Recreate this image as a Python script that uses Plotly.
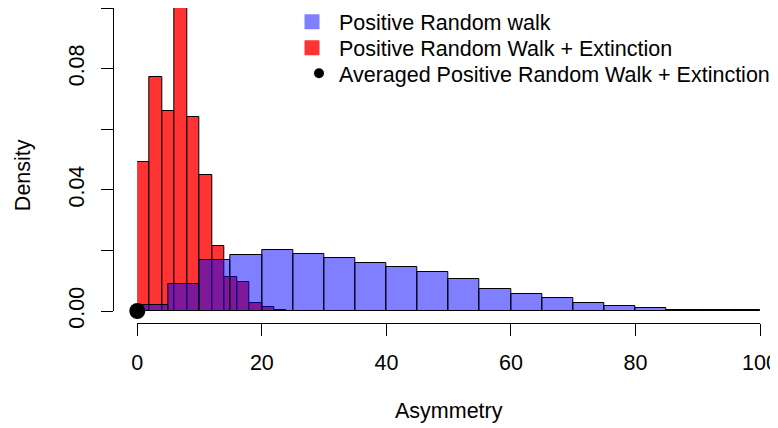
import plotly.graph_objects as go

# ---- data ----
red_start, red_width = 0, 2
red_density = [0.0547, 0.0860, 0.0735, 0.1121, 0.0715, 0.0502, 0.0240,
               0.0126, 0.0107, 0.0028, 0.0015, 0.0004]
blue_start, blue_width = 0, 5
blue_density = [0.0021, 0.0098, 0.0189, 0.0205, 0.0223, 0.0209, 0.0195,
                0.0177, 0.0161, 0.0142, 0.0119, 0.0080, 0.0061, 0.0047,
                0.0031, 0.0018, 0.0011, 0.0005, 0.0002, 0.0002]
avg_x = [0]
avg_y = [0]
x_ticks = [0, 20, 40, 60, 80, 100]
y_ticks = [0.00, 0.02, 0.04, 0.06, 0.08, 0.10]
y_ticktext = ["0.00", "", "0.04", "", "0.08", ""]
names = ["Positive Random walk", "Positive Random Walk + Extinction",
         "Averaged Positive Random Walk + Extinction"]

RED = "rgba(255,0,0,0.8)"
BLUE = "rgba(0,0,255,0.5)"
FONT = "Liberation Sans, Arial, sans-serif"
FS = 21.5

# page body has an 8px margin; figure fills the rest of the 778x428 window
OFF = 8
W, H = 778 - OFF, 428 - OFF

def px(xs):
    return (xs - OFF) / W

def py(ys):
    return 1 - (ys - OFF) / H

x0s, x100s = 137.3, 760.0       # screen x of 0 and 100
base_s, top_s = 311.0, 39.3     # screen y of 0.00 and 0.10
scale = (base_s - top_s) / 0.10

def centers(start, width, n):
    return [start + width * (i + 0.5) for i in range(n)]

fig = go.Figure()
fig.add_trace(go.Bar(
    x=centers(red_start, red_width, len(red_density)), y=red_density,
    width=[red_width] * len(red_density),
    marker=dict(color=RED, line=dict(color="black", width=1)),
    showlegend=False))
fig.add_trace(go.Bar(
    x=centers(blue_start, blue_width, len(blue_density)), y=blue_density,
    width=[blue_width] * len(blue_density),
    marker=dict(color=BLUE, line=dict(color="black", width=1)),
    showlegend=False))
fig.add_trace(go.Scatter(
    x=avg_x, y=avg_y, mode="markers", cliponaxis=False,
    marker=dict(color="black", size=16), showlegend=False))

# legend entries (one legend per row so each can be placed like R's legend)
fig.add_trace(go.Scatter(x=[None], y=[None], mode="markers", name=names[0],
                         legend="legend",
                         marker=dict(symbol="square", size=15, color="rgb(128,128,255)")))
fig.add_trace(go.Scatter(x=[None], y=[None], mode="markers", name=names[1],
                         legend="legend2",
                         marker=dict(symbol="square", size=15, color="rgb(255,51,51)")))
fig.add_trace(go.Scatter(x=[None], y=[None], mode="markers", name=names[2],
                         legend="legend3",
                         marker=dict(symbol="circle", size=10, color="black")))
# carrier for display y-axis
fig.add_trace(go.Scatter(x=[None], y=[None], yaxis="y2", showlegend=False,
                         hoverinfo="skip"))

def leg(yc, iw):
    return dict(x=px(339 - (iw + 10)), y=py(yc), xanchor="left", yanchor="middle",
                bgcolor="rgba(0,0,0,0)", font=dict(size=FS), itemwidth=iw)

fig.update_layout(
    template="none",
    width=W, height=H,
    margin=dict(l=0, r=0, t=0, b=0, autoexpand=False),
    paper_bgcolor="white", plot_bgcolor="white",
    barmode="overlay", bargap=0,
    font=dict(family=FONT, size=FS, color="black"),
    xaxis=dict(domain=[px(x0s), px(x100s)], range=[0, 100],
               anchor="free", position=py(323.3), automargin=False,
               showgrid=False, zeroline=False, showline=True,
               linecolor="black", linewidth=1,
               ticks="outside", ticklen=12, tickwidth=1, tickcolor="black",
               tickvals=x_ticks, ticklabelstandoff=8),
    yaxis=dict(domain=[py(base_s), 1], range=[0, (base_s - OFF) / scale],
               visible=False, showgrid=False, zeroline=False, automargin=False),
    yaxis2=dict(domain=[py(base_s), py(top_s)], range=[0, 0.10],
                overlaying="y", anchor="free", position=px(112.7), side="left",
                automargin=False,
                showgrid=False, zeroline=False, showline=True,
                linecolor="black", linewidth=1,
                ticks="outside", ticklen=12, tickwidth=1, tickcolor="black",
                tickvals=y_ticks, ticktext=y_ticktext, tickangle=-90,
                ticklabelstandoff=8),
    legend=leg(21.7, 44),
    legend2=leg(47.7, 44),
    legend3=leg(73.3, 30),
    annotations=[
        dict(text="Asymmetry", xref="paper", yref="paper",
             x=px((x0s + x100s) / 2), y=py(411),
             showarrow=False, xanchor="center", yanchor="middle"),
        dict(text="Density", xref="paper", yref="paper",
             x=px(23), y=py((base_s + top_s) / 2), textangle=-90,
             showarrow=False, xanchor="center", yanchor="middle"),
    ],
)

fig.write_html("out.html")
